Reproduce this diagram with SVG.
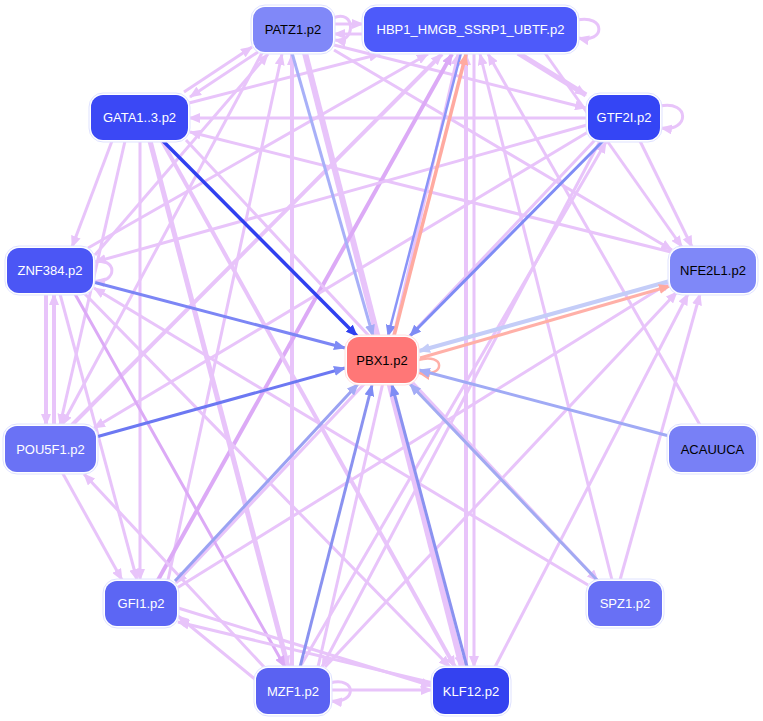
<svg xmlns="http://www.w3.org/2000/svg" width="763" height="721" viewBox="0 0 763 721">
<style>
.e{fill:none;stroke:#e8c4fa;stroke-width:3;marker-end:url(#aL)}
.d{fill:none;stroke:#dcaaf6;stroke-width:3;marker-end:url(#aD)}
.nb{fill:#fff;stroke:#dfe2ff;stroke-width:1}
.t{font-family:"Liberation Sans",Arial,sans-serif;font-size:13px;text-anchor:middle;dominant-baseline:central}
.w{fill:#fff}.k{fill:#000}
</style>
<defs>
<marker id="aL" markerUnits="userSpaceOnUse" markerWidth="12" markerHeight="10" refX="11" refY="5" orient="auto" viewBox="0 0 12 10"><path d="M0,0 L12,5 L0,10 z" fill="#e8c4fa"/></marker>
<marker id="aD" markerUnits="userSpaceOnUse" markerWidth="12" markerHeight="10" refX="11" refY="5" orient="auto" viewBox="0 0 12 10"><path d="M0,0 L12,5 L0,10 z" fill="#dcaaf6"/></marker>
<marker id="b1" markerUnits="userSpaceOnUse" markerWidth="12" markerHeight="10" refX="11" refY="5" orient="auto" viewBox="0 0 12 10"><path d="M0,0 L12,5 L0,10 z" fill="#3040f0"/></marker>
<marker id="b2" markerUnits="userSpaceOnUse" markerWidth="12" markerHeight="10" refX="11" refY="5" orient="auto" viewBox="0 0 12 10"><path d="M0,0 L12,5 L0,10 z" fill="#7f8cf5"/></marker>
<marker id="b3" markerUnits="userSpaceOnUse" markerWidth="12" markerHeight="10" refX="11" refY="5" orient="auto" viewBox="0 0 12 10"><path d="M0,0 L12,5 L0,10 z" fill="#a4acf6"/></marker>
<marker id="b4" markerUnits="userSpaceOnUse" markerWidth="12" markerHeight="10" refX="11" refY="5" orient="auto" viewBox="0 0 12 10"><path d="M0,0 L12,5 L0,10 z" fill="#c4cdf8"/></marker>
<marker id="sa" markerUnits="userSpaceOnUse" markerWidth="12" markerHeight="10" refX="11" refY="5" orient="auto" viewBox="0 0 12 10"><path d="M0,0 L12,5 L0,10 z" fill="#ffaaa0"/></marker>
</defs>
<rect width="763" height="721" fill="#fff"/>
<g id="connectors">
<!-- lavender edges -->
<path class="e" d="M258,52 L190,97"/>
<path class="e" d="M184,92 L252,47"/>
<path class="e" d="M333,24 L363,24"/>
<path class="e" d="M363,34 L334,34"/>
<path class="e" d="M333,18 C356,8 356,44 335,40"/>
<path class="e" d="M577,20 C606,14 606,44 578,38"/>
<path class="e" d="M660,106 C690,100 690,132 661,128"/>
<path class="e" d="M93,262 C118,256 118,284 94,281"/>
<path class="e" d="M330,683 C357,676 357,704 331,701"/>
<path class="e" d="M331,690 L432,690"/>
<path class="e" d="M189,103 L380,54"/>
<path class="e" d="M587,118 L189,118"/>
<path class="e" d="M671,252 L190,132"/>
<path class="e" d="M334,45 L586,108"/>
<path class="e" style="stroke-width:5" d="M518,53 L586,95"/>
<path class="e" d="M334,50 L672,250"/>
<path class="e" d="M95,255 L268,54"/>
<path class="e" style="stroke-width:4" d="M292,667 L292,54"/>
<path class="e" style="stroke-width:6" d="M305,53 L462,667"/>
<path class="e" d="M168,580 L282,54"/>
<path class="e" d="M262,53 L62,425"/>
<path class="e" d="M88,248 L428,54"/>
<path class="e" style="stroke-width:4" d="M72,425 L442,54"/>
<path class="d" style="stroke-width:4" d="M158,580 L452,54"/>
<path class="e" d="M318,667 L458,54"/>
<path class="e" style="stroke-width:4" d="M466,667 L466,54"/>
<path class="e" d="M474,54 L474,667"/>
<path class="e" d="M612,580 L480,54"/>
<path class="e" d="M700,425 L488,54"/>
<path class="e" d="M545,53 L682,247"/>
<path class="e" d="M140,141 L140,580"/>
<path class="e" d="M112,141 L72,247"/>
<path class="e" d="M125,141 L60,425"/>
<path class="e" style="stroke-width:5" d="M150,141 L288,667"/>
<path class="e" style="stroke-width:4" d="M162,141 L455,667"/>
<path class="e" d="M186,140 L598,581"/>
<path class="e" d="M587,125 L95,262"/>
<path class="e" d="M588,132 L94,428"/>
<path class="e" d="M595,140 L176,583"/>
<path class="e" d="M600,141 L322,667"/>
<path class="e" d="M640,141 L692,247"/>
<path class="e" d="M300,667 L606,142"/>
<path class="e" style="stroke-width:4" d="M46,294 L46,425"/>
<path class="e" style="stroke-width:4" d="M54,425 L54,294"/>
<path class="e" d="M60,294 L137,580"/>
<path class="d" d="M75,294 L285,667"/>
<path class="e" d="M85,294 L450,667"/>
<path class="e" d="M588,585 L94,288"/>
<path class="e" d="M177,588 L672,281"/>
<path class="e" d="M325,667 L677,292"/>
<path class="e" d="M495,667 L688,294"/>
<path class="e" d="M620,580 L700,294"/>
<path class="e" d="M62,472 L122,580"/>
<path class="e" d="M265,668 L84,474"/>
<path class="e" d="M433,683 L178,622"/>
<path class="e" d="M256,680 L178,616"/>
<path class="e" d="M178,608 L432,686"/>
<!-- blue / salmon edges into PBX1 -->
<path fill="none" stroke="#3040f0" stroke-width="3.5" marker-end="url(#b1)" d="M163,141 L357,336"/>
<path fill="none" stroke="#a8b0f8" stroke-width="3" marker-end="url(#b3)" d="M292,53 L373,336"/>
<path fill="none" stroke="#8a94f8" stroke-width="2.5" marker-end="url(#b2)" d="M461,53 L388,336"/>
<path fill="none" stroke="#ffaaa0" stroke-width="3.5" marker-end="url(#sa)" d="M394,336 L466,54"/>
<path fill="none" stroke="#7f8cf5" stroke-width="3" marker-end="url(#b2)" d="M603,141 L410,336"/>
<path fill="none" stroke="#7c86f5" stroke-width="3" marker-end="url(#b2)" d="M93,282 L345,348"/>
<path fill="none" stroke="#c4cdf8" stroke-width="4" marker-end="url(#b4)" d="M670,281 L419,351"/>
<path fill="none" stroke="#ffb0a8" stroke-width="3" marker-end="url(#sa)" d="M420,358 L670,286"/>
<path fill="none" stroke="#ffb0a8" stroke-width="2.5" marker-end="url(#sa)" d="M418,360 C446,352 446,378 419,373"/>
<path fill="none" stroke="#a0aaf5" stroke-width="3" marker-end="url(#b3)" d="M669,436 L419,370"/>
<path fill="none" stroke="#6c78f2" stroke-width="3" marker-end="url(#b2)" d="M96,437 L345,368"/>
<path fill="none" stroke="#9aa2f2" stroke-width="3" marker-end="url(#b3)" d="M175,581 L358,384"/>
<path fill="none" stroke="#a2aaf2" stroke-width="3" marker-end="url(#b3)" d="M598,581 L410,384"/>
<path fill="none" stroke="#8a92f0" stroke-width="3" marker-end="url(#b2)" d="M300,667 L372,385"/>
<path fill="none" stroke="#8a92f0" stroke-width="3" marker-end="url(#b2)" d="M467,667 L392,385"/>
</g>
<g id="PATZ1"><rect class="nb" x="251" y="5" width="84" height="49" rx="14"/><rect x="253" y="7" width="80" height="45" rx="12" fill="#8088f8"/><text class="t k" x="293" y="29.5">PATZ1.p2</text></g>
<g id="HBP1"><rect class="nb" x="362" y="5" width="217" height="49" rx="14"/><rect x="364" y="7" width="213" height="45" rx="12" fill="#4d5afa"/><text class="t w" x="470.5" y="29.5">HBP1_HMGB_SSRP1_UBTF.p2</text></g>
<g id="GATA"><rect class="nb" x="89" y="93" width="101" height="49" rx="14"/><rect x="91" y="95" width="97" height="45" rx="12" fill="#3b48f5"/><text class="t w" x="139.5" y="117.5">GATA1..3.p2</text></g>
<g id="GTF2I"><rect class="nb" x="586" y="93" width="76" height="49" rx="14"/><rect x="588" y="95" width="72" height="45" rx="12" fill="#3445f5"/><text class="t w" x="624" y="117.5">GTF2I.p2</text></g>
<g id="ZNF384"><rect class="nb" x="5" y="246" width="90" height="49" rx="14"/><rect x="7" y="248" width="86" height="45" rx="12" fill="#4b56f5"/><text class="t w" x="50" y="270.5">ZNF384.p2</text></g>
<g id="NFE2L1"><rect class="nb" x="668" y="246" width="90" height="49" rx="14"/><rect x="670" y="248" width="86" height="45" rx="12" fill="#7f88f8"/><text class="t k" x="713" y="270.5">NFE2L1.p2</text></g>
<g id="PBX1"><rect x="345" y="335" width="74" height="50" rx="14" fill="#fff" stroke="#ffe0e0"/><rect x="347" y="337" width="70" height="46" rx="12" fill="#ff7777"/><text class="t k" x="382" y="360">PBX1.p2</text></g>
<g id="POU5F1"><rect class="nb" x="3" y="424" width="95" height="50" rx="14"/><rect x="5" y="426" width="91" height="46" rx="12" fill="#6a72f5"/><text class="t w" x="50.5" y="449">POU5F1.p2</text></g>
<g id="ACAUUCA"><rect class="nb" x="667" y="424" width="91" height="50" rx="14"/><rect x="669" y="426" width="87" height="46" rx="12" fill="#7880f6"/><text class="t k" x="712.5" y="449">ACAUUCA</text></g>
<g id="GFI1"><rect class="nb" x="103" y="579" width="76" height="49" rx="14"/><rect x="105" y="581" width="72" height="45" rx="12" fill="#5c66f4"/><text class="t w" x="141" y="603.5">GFI1.p2</text></g>
<g id="SPZ1"><rect class="nb" x="586" y="579" width="78" height="49" rx="14"/><rect x="588" y="581" width="74" height="45" rx="12" fill="#6870f5"/><text class="t w" x="625" y="603.5">SPZ1.p2</text></g>
<g id="MZF1"><rect class="nb" x="254" y="666" width="78" height="50" rx="14"/><rect x="256" y="668" width="74" height="46" rx="12" fill="#5a62f2"/><text class="t w" x="293" y="691">MZF1.p2</text></g>
<g id="KLF12"><rect class="nb" x="431" y="666" width="80" height="50" rx="14"/><rect x="433" y="668" width="76" height="46" rx="12" fill="#3442f0"/><text class="t w" x="471" y="691">KLF12.p2</text></g>
</svg>
